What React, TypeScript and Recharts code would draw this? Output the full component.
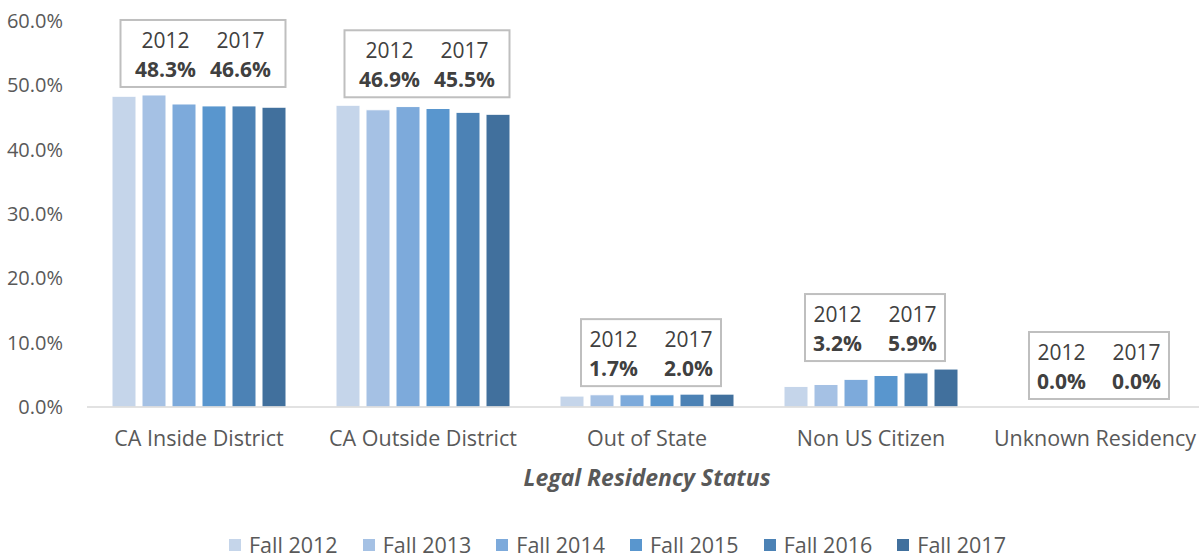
import { ComposedChart, Bar, Line, XAxis, YAxis, Legend, Label } from 'recharts'

const categories = ['CA Inside District', 'CA Outside District', 'Out of State', 'Non US Citizen', 'Unknown Residency']
const seriesNames = ['Fall 2012', 'Fall 2013', 'Fall 2014', 'Fall 2015', 'Fall 2016', 'Fall 2017']
const seriesColors = ['#c5d5ea', '#a5c1e4', '#7daadb', '#5996ce', '#4c82b5', '#41709d']

const fall2012 = [48.3, 46.9, 1.7, 3.2, 0.0]
const fall2013 = [48.5, 46.2, 1.9, 3.5, 0.0]
const fall2014 = [47.1, 46.7, 1.9, 4.3, 0.0]
const fall2015 = [46.8, 46.4, 1.9, 4.9, 0.0]
const fall2016 = [46.8, 45.8, 2.0, 5.3, 0.0]
const fall2017 = [46.6, 45.5, 2.0, 5.9, 0.0]

const yTicks = [0, 10, 20, 30, 40, 50, 60]

const allSeries = [fall2012, fall2013, fall2014, fall2015, fall2016, fall2017]

const data = categories.map((name, i) => {
  const row: Record<string, string | number> = { name }
  allSeries.forEach((s, k) => {
    row['s' + k] = s[i]
  })
  // highest bar of the group, used to anchor the 2012/2017 callout
  row.peak = Math.max(...allSeries.map((s) => s[i]))
  row.first = fall2012[i]
  row.last = fall2017[i]
  return row
})

const FONT = "'Open Sans', sans-serif"
const pct = (v: number) => `${v.toFixed(1)}%`

const CalloutBox = (props: any) => {
  const { cx, cy, payload, index } = props
  if (cx == null || cy == null) return <g key={index} />
  const wide = payload.first >= 10 || payload.last >= 10
  const w = wide ? 165 : 140
  const h = 67
  const center = cx + 4
  const top = cy - 8 - h
  const txt = { fontSize: 21, fill: '#404040', fontFamily: FONT, textAnchor: 'middle' as const }
  return (
    <g key={index}>
      <rect x={center - w / 2} y={top} width={w} height={h} fill="#ffffff" stroke="#bfbfbf" strokeWidth={2} />
      <text x={center - 37.5} y={top + 28} {...txt}>
        2012
      </text>
      <text x={center + 37.5} y={top + 28} {...txt}>
        2017
      </text>
      <text x={center - 37.5} y={top + 57} fontWeight="bold" {...txt}>
        {pct(payload.first)}
      </text>
      <text x={center + 37.5} y={top + 57} fontWeight="bold" {...txt}>
        {pct(payload.last)}
      </text>
    </g>
  )
}

const AxisTitle = (props: any) => {
  const vb = props.viewBox || {}
  return (
    <text
      x={vb.x + vb.width / 2}
      y={vb.y + 79}
      textAnchor="middle"
      fontSize={23}
      fontWeight="bold"
      fontStyle="italic"
      fill="#595959"
      fontFamily={FONT}
    >
      Legal Residency Status
    </text>
  )
}

const LegendRow = () => (
  <div
    style={{
      height: 36,
      paddingTop: 10,
      paddingLeft: 229,
      boxSizing: 'border-box',
      display: 'flex',
      gap: 25,
      fontFamily: FONT,
      fontSize: 21.5,
      color: '#595959',
      lineHeight: '26px',
      whiteSpace: 'nowrap',
    }}
  >
    {seriesNames.map((n, k) => (
      <div key={n} style={{ display: 'flex', alignItems: 'center' }}>
        <span style={{ width: 12, height: 12, background: seriesColors[k], display: 'inline-block', marginRight: 8 }} />
        <span>{n}</span>
      </div>
    ))}
  </div>
)

export default function App() {
  return (
    <div style={{ position: 'absolute', left: 0, top: 0, width: 1199, height: 558, overflow: 'hidden', background: '#fff' }}>
      <ComposedChart
        width={1210}
        height={558}
        data={data}
        margin={{ top: 21, right: 3, left: 0, bottom: 0 }}
        barGap={6}
        style={{ fontFamily: FONT }}
      >
        <XAxis
          dataKey="name"
          height={115}
          tickLine={false}
          tickSize={0}
          tickMargin={24}
          axisLine={{ stroke: '#d9d9d9', strokeWidth: 1.5 }}
          tick={{ fill: '#595959', fontSize: 21.5, fontFamily: FONT }}
          interval={0}
        >
          <Label content={<AxisTitle />} />
        </XAxis>
        <YAxis
          width={87}
          domain={[0, 60]}
          ticks={yTicks}
          axisLine={false}
          tickLine={false}
          tickSize={0}
          tickMargin={24}
          tickFormatter={(v) => pct(v)}
          tick={{ fill: '#595959', fontSize: 20, fontFamily: FONT }}
        />
        <Legend verticalAlign="bottom" content={<LegendRow />} />
        {seriesNames.map((n, k) => (
          <Bar
            key={n}
            dataKey={'s' + k}
            name={n}
            fill={seriesColors[k]}
            stroke="#ffffff"
            strokeWidth={1}
            barSize={24}
            isAnimationActive={false}
          />
        ))}
        <Line
          dataKey="peak"
          stroke="none"
          legendType="none"
          dot={CalloutBox}
          activeDot={false}
          isAnimationActive={false}
        />
      </ComposedChart>
    </div>
  )
}
